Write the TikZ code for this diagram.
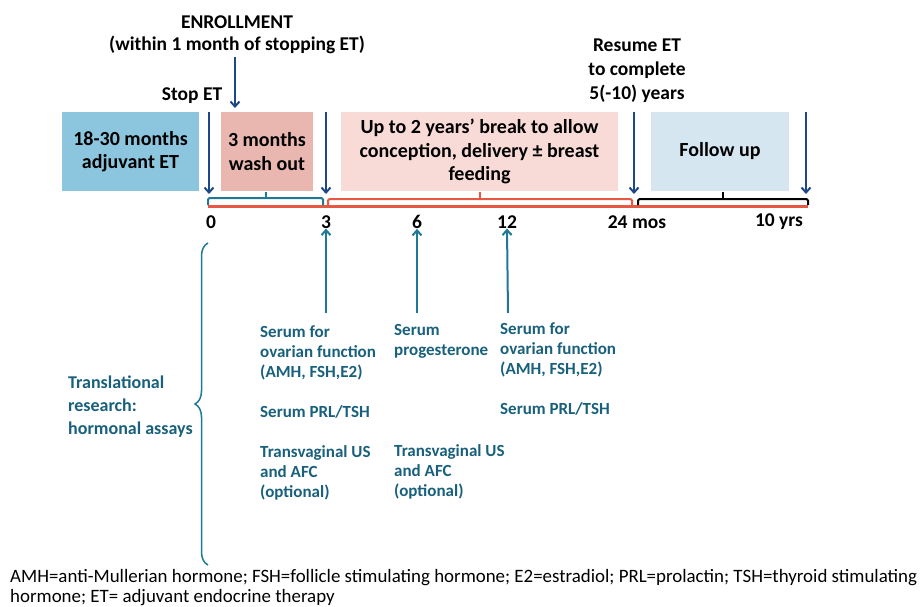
\documentclass[tikz,border=0pt]{standalone}
\usepackage{fontspec}
\setmainfont{Carlito}
\usetikzlibrary{decorations.pathreplacing,arrows.meta}
\definecolor{adjfill}{RGB}{140,198,222}
\definecolor{washfill}{RGB}{233,183,175}
\definecolor{breakfill}{RGB}{248,218,214}
\definecolor{followfill}{RGB}{213,230,241}
\definecolor{darkarrow}{RGB}{28,72,135}
\definecolor{tealtext}{RGB}{24,96,124}
\definecolor{tealline}{RGB}{30,120,150}
\definecolor{redline}{RGB}{230,88,66}
\begin{document}
\begin{tikzpicture}[x=1pt,y=-1pt,
  phase/.style={minimum height=79pt, inner sep=0pt, align=center, font=\bfseries\fontsize{20}{23.5}\selectfont},
  toplbl/.style={align=center, inner sep=0pt, font=\bfseries\fontsize{19.5}{24}\selectfont},
  ticklbl/.style={inner sep=0pt, font=\bfseries\fontsize{19.5}{22}\selectfont},
  assay/.style={anchor=north west, align=left, inner sep=0pt, text=tealtext, font=\bfseries\fontsize{17}{20}\selectfont},
  darr/.style={-{Straight Barb[length=5pt,width=9pt]}, darkarrow, line width=2pt},
  tarr/.style={-{Straight Barb[length=5pt,width=9pt]}, tealline, line width=2pt},
  bracket/.style={line width=2pt, rounded corners=1.5pt}]
\useasboundingbox (0,0) rectangle (921,607);
\node[toplbl] (enrol) at (237,22) {ENROLLMENT};
\node[toplbl] (enrolsub) at (237,45) {(within 1 month of stopping ET)};
\node[toplbl] (stoplbl) at (192,96) {Stop ET};
\node[toplbl] (resume) at (637,71) {Resume ET\\to complete\\5(-10) years};
\node[phase, fill=adjfill, minimum width=137pt] (adjbox) at (130.5,151.5) {18-30 months\\adjuvant ET};
\node[phase, fill=washfill, minimum width=92pt] (washbox) at (267,151.5) {3 months\\wash out};
\node[phase, fill=breakfill, minimum width=277pt] (breakbox) at (479.5,151.5) {Up to 2 years’ break to allow\\conception, delivery ± breast\\feeding};
\node[phase, fill=followfill, minimum width=138pt] (followbox) at (720,151.5) {Follow up};
\coordinate (ea) at (235,57);
\coordinate (eb) at (235,108);
\draw[darr] (ea) -- (eb);
\coordinate (s0a) at (209,112);
\coordinate (s0b) at (209,194);
\draw[darr] (s0a) -- (s0b);
\coordinate (s3a) at (326,112);
\coordinate (s3b) at (326,194);
\draw[darr] (s3a) -- (s3b);
\coordinate (s24a) at (634,112);
\coordinate (s24b) at (634,194);
\draw[darr] (s24a) -- (s24b);
\coordinate (s10a) at (806,112);
\coordinate (s10b) at (806,194);
\draw[darr] (s10a) -- (s10b);
\coordinate (lineL) at (208,206);
\coordinate (lineR) at (808,206);
\draw[redline, line width=3pt] (lineL) -- (lineR);
\draw[bracket, tealline] (208,205) -- (208,198) -- (323,198) -- (323,205);
\draw[tealline, line width=2pt] (266,198) -- (266,192);
\draw[bracket, redline] (328,205) -- (328,199) -- (632,199) -- (632,205);
\draw[redline, line width=2pt] (480,199) -- (480,192);
\draw[bracket, black] (638,205) -- (638,199) -- (808,199) -- (808,205);
\draw[black, line width=2pt] (723,199) -- (723,192);
\node[ticklbl] (t0) at (211,222) {0};
\node[ticklbl] (t3) at (326,222) {3};
\node[ticklbl] (t6) at (417,222) {6};
\node[ticklbl] (t12) at (507,222) {12};
\node[ticklbl] (t24) at (637,222) {24 mos};
\node[ticklbl] (t10) at (779,222) {10 yrs};
\coordinate (u3) at (326,313);
\coordinate (u6) at (417,313);
\coordinate (u12) at (508,313);
\draw[tarr] (u3) -- (t3.south);
\draw[tarr] (u6) -- (t6.south);
\draw[tarr] (u12) -- (t12.south);
\node[assay] (m3a) at (260,325) {Serum for\\ovarian function\\(AMH, FSH,E2)};
\node[assay] (m3b) at (260,405) {Serum PRL/TSH};
\node[assay] (m3c) at (260,445) {Transvaginal US\\and AFC\\(optional)};
\node[assay] (m6a) at (394,324) {Serum\\progesterone};
\node[assay] (m6c) at (394,444) {Transvaginal US\\and AFC\\(optional)};
\node[assay] (m12a) at (500,322) {Serum for\\ovarian function\\(AMH, FSH,E2)};
\node[assay] (m12b) at (500,402) {Serum PRL/TSH};
\node[assay, font=\bfseries\fontsize{18}{23}\selectfont] (transl) at (68,376) {Translational\\research:\\hormonal assays};
\coordinate (brBot) at (208,565);
\coordinate (brTop) at (208,243);
\draw[tealline, line width=1.5pt, decorate, decoration={brace, amplitude=13pt}] (brBot) -- (brTop);
\node[anchor=north west, align=left, inner sep=0pt, font=\fontsize{18.9}{20.5}\selectfont] (notes) at (10,569) {AMH=anti-Mullerian hormone; FSH=follicle stimulating hormone; E2=estradiol; PRL=prolactin; TSH=thyroid stimulating\\hormone; ET= adjuvant endocrine therapy};
\end{tikzpicture}
\end{document}
